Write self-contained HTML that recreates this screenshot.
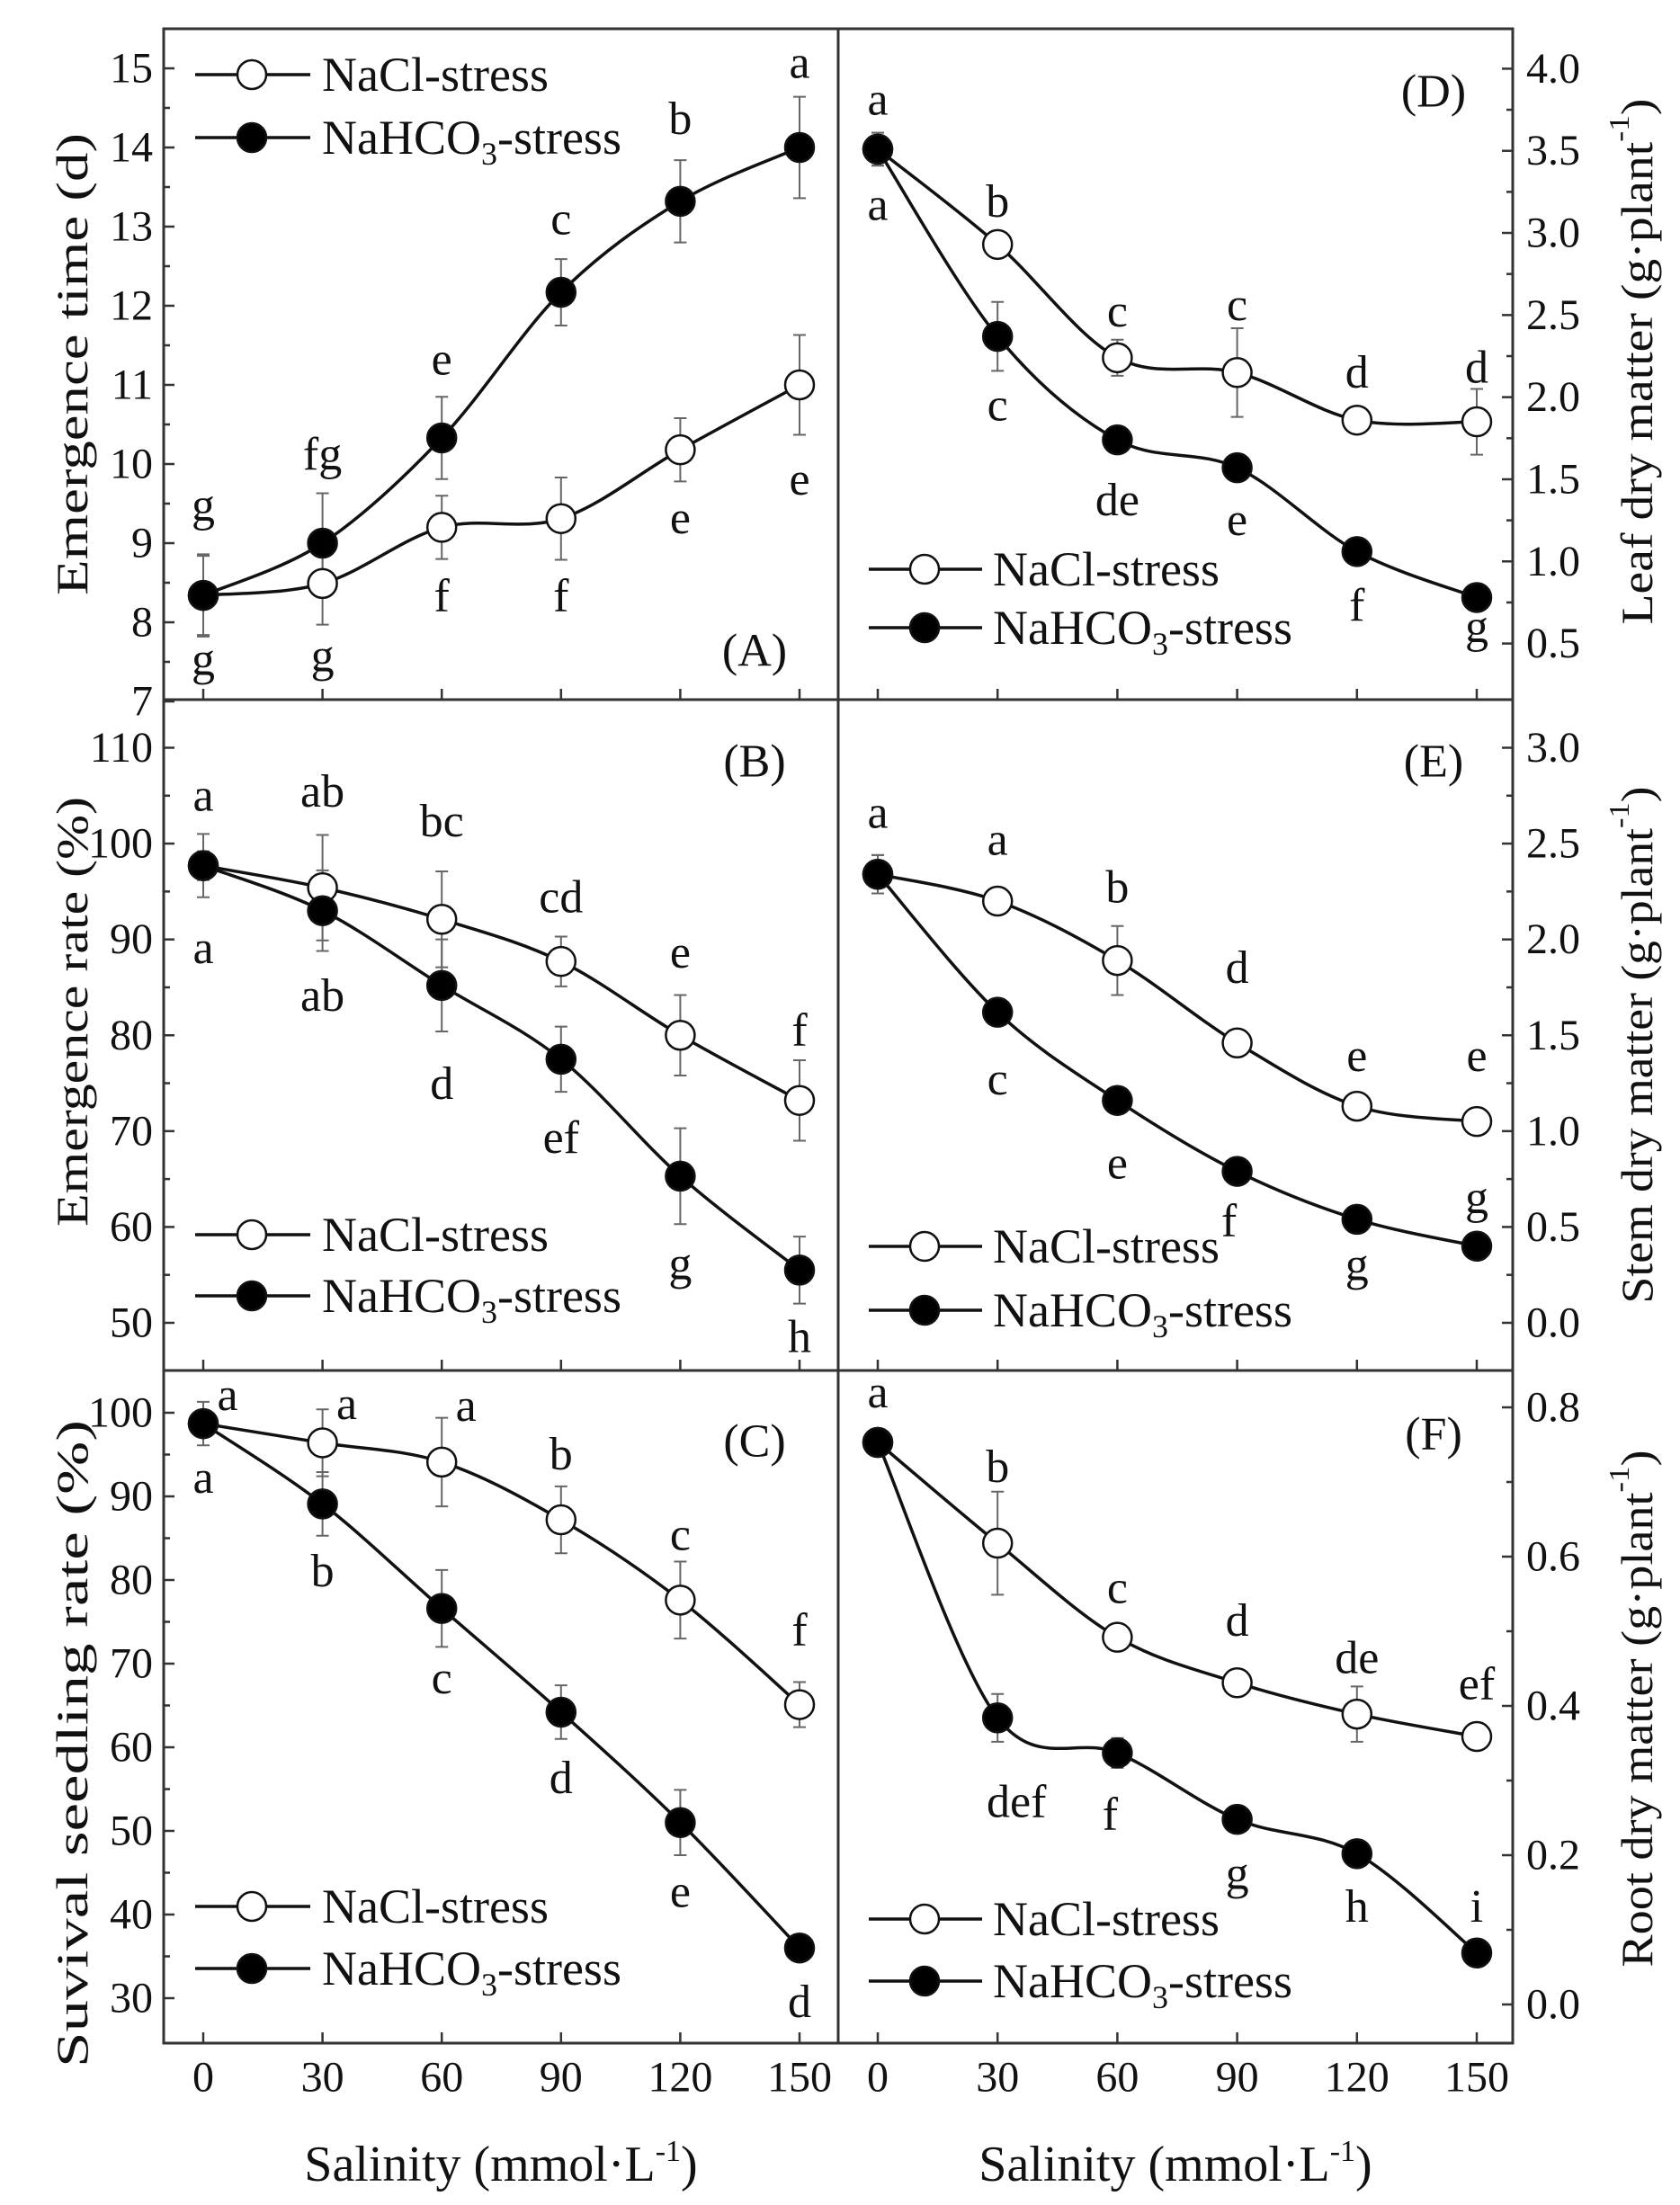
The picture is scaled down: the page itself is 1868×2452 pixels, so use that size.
<!DOCTYPE html>
<html>
<head>
<meta charset="utf-8">
<style>
  html,body{margin:0;padding:0;background:#fff;}
  svg{display:block;}
  text{font-family:"Liberation Serif","Times New Roman",serif;fill:#111;}
</style>
</head>
<body>
<svg id="chart" xmlns="http://www.w3.org/2000/svg" width="1868" height="2452" viewBox="0 0 1868 2452">
  <rect x="0" y="0" width="1868" height="2452" fill="#fff"/>
  <g id="marks"></g>
  <rect x="182" y="32" width="1500" height="2240" fill="none" stroke="#333" stroke-width="3"/>
  <line x1="932" y1="32" x2="932" y2="2272" stroke="#333" stroke-width="3"/>
  <line x1="182" y1="778" x2="1682" y2="778" stroke="#333" stroke-width="3"/>
  <line x1="182" y1="1524" x2="1682" y2="1524" stroke="#333" stroke-width="3"/>
  <text x="557" y="2425" font-size="56" text-anchor="middle">Salinity (mmol·L<tspan dy="-22" font-size="34">-1</tspan><tspan dy="22">)</tspan></text>
  <text x="1307" y="2425" font-size="56" text-anchor="middle">Salinity (mmol·L<tspan dy="-22" font-size="34">-1</tspan><tspan dy="22">)</tspan></text>
</svg>
<script>
// ---------- data ----------
const salinity = [0, 30, 60, 90, 120, 150];
const xTickLabels = ['0', '30', '60', '90', '120', '150'];

// (A) Emergence time (d)
const aNaCl = [8.34, 8.49, 9.2, 9.31, 10.18, 11.0];
const aNaClErr = [0.5, 0.52, 0.4, 0.52, 0.4, 0.63];
const aNaHCO3 = [8.34, 9.0, 10.33, 12.17, 13.32, 14.0];
const aNaHCO3Err = [0.52, 0.63, 0.52, 0.42, 0.52, 0.64];
const aTopLetters = ['g', 'fg', 'e', 'c', 'b', 'a'];
const aTopLetterY = [9.47, 10.12, 11.32, 13.09, 14.36, 15.07];
const aBotLetters = ['g', 'g', 'f', 'f', 'e', 'e'];
const aBotLetterY = [7.52, 7.57, 8.33, 8.33, 9.31, 9.8];
const aTicks = ['7', '8', '9', '10', '11', '12', '13', '14', '15'];

// (B) Emergence rate (%)
const bNaCl = [97.7, 95.4, 92.1, 87.7, 80.0, 73.2];
const bNaClErr = [3.3, 5.5, 5.0, 2.6, 4.2, 4.2];
const bNaHCO3 = [97.7, 93.0, 85.2, 77.5, 65.3, 55.5];
const bNaHCO3Err = [1.5, 4.2, 4.8, 3.4, 5.0, 3.5];
const bTopLetters = ['a', 'ab', 'bc', 'cd', 'e', 'f'];
const bTopLetterY = [105, 105.4, 102.3, 94.4, 88.6, 80.5];
const bBotLetters = ['a', 'ab', 'd', 'ef', 'g', 'h'];
const bBotLetterY = [89.1, 84.1, 74.9, 69.3, 56.1, 48.5];
const bTicks = ['50', '60', '70', '80', '90', '100', '110'];

// (C) Survival seedling rate (%)
const cNaCl = [98.7, 96.4, 94.1, 87.2, 77.6, 65.1];
const cNaClErr = [2.6, 4.0, 5.3, 4.0, 4.6, 2.7];
const cNaHCO3 = [98.7, 89.1, 76.6, 64.2, 51.0, 36.0];
const cNaHCO3Err = [1.5, 3.8, 4.6, 3.2, 3.9, 1.0];
const cTopLetters = ['a', 'a', 'a', 'b', 'c', 'f'];
const cTopLetterY = [102.1, 101.0, 100.8, 95.0, 85.4, 74.0];
const cTopLetterDx = [27, 27, 27, 0, 0, 0];
const cBotLetters = ['a', 'b', 'c', 'd', 'e', 'd'];
const cBotLetterY = [92.2, 81.0, 68.2, 56.3, 42.7, 29.5];
const cTicks = ['30', '40', '50', '60', '70', '80', '90', '100'];

// (D) Leaf dry matter
const dNaCl = [3.51, 2.93, 2.24, 2.15, 1.86, 1.85];
const dNaClErr = [0.1, 0.05, 0.11, 0.27, 0.03, 0.2];
const dNaHCO3 = [3.51, 2.37, 1.74, 1.57, 1.06, 0.78];
const dNaHCO3Err = [0.1, 0.21, 0.04, 0.04, 0.04, 0.04];
const dTopLetters = ['a', 'b', 'c', 'c', 'd', 'd'];
const dTopLetterY = [3.81, 3.19, 2.52, 2.56, 2.15, 2.18];
const dBotLetters = ['a', 'c', 'de', 'e', 'f', 'g'];
const dBotLetterY = [3.17, 1.95, 1.37, 1.25, 0.73, 0.6];
const dTicks = ['0.5', '1.0', '1.5', '2.0', '2.5', '3.0', '3.5', '4.0'];

// (E) Stem dry matter
const eNaCl = [2.34, 2.2, 1.89, 1.46, 1.13, 1.05];
const eNaClErr = [0.1, 0.03, 0.18, 0.04, 0.04, 0.02];
const eNaHCO3 = [2.34, 1.62, 1.16, 0.79, 0.54, 0.4];
const eNaHCO3Err = [0.1, 0.03, 0.03, 0.03, 0.03, 0.03];
const eTopLetters = ['a', 'a', 'b', 'd', 'e', 'e'];
const eTopLetterY = [2.66, 2.52, 2.27, 1.85, 1.39, 1.39];
const eBotLetters = ['c', 'e', 'f', 'g', 'g'];
const eBotLetterIdx = [1, 2, 3, 4, 5];
const eBotLetterY = [1.27, 0.83, 0.53, 0.3, 0.65];
const eTicks = ['0.0', '0.5', '1.0', '1.5', '2.0', '2.5', '3.0'];

// (F) Root dry matter
const fNaCl = [0.753, 0.618, 0.492, 0.431, 0.389, 0.359];
const fNaClErr = [0.01, 0.069, 0.01, 0.015, 0.037, 0.01];
const fNaHCO3 = [0.753, 0.384, 0.337, 0.248, 0.202, 0.069];
const fNaHCO3Err = [0.01, 0.032, 0.02, 0.01, 0.01, 0.01];
const fTopLetters = ['a', 'b', 'c', 'd', 'de', 'ef'];
const fTopLetterY = [0.82, 0.72, 0.558, 0.514, 0.464, 0.429];
const fBotLetters = ['def', 'f', 'g', 'h', 'i'];
const fBotLetterIdx = [1, 2, 3, 4, 5];
const fBotLetterY = [0.271, 0.254, 0.175, 0.131, 0.131];
const fBotLetterDx = [21, -8, 0, 0, 0];
const fTicks = ['0.0', '0.2', '0.4', '0.6', '0.8'];

// ---------- rendering ----------
const NS = 'http://www.w3.org/2000/svg';
const root = document.getElementById('marks');
function mk(tag, attrs, parent) {
  const el = document.createElementNS(NS, tag);
  for (const k in attrs) el.setAttribute(k, attrs[k]);
  (parent || root).appendChild(el);
  return el;
}
function linScale(v0, p0, v1, p1) { return v => p0 + (v - v0) * (p1 - p0) / (v1 - v0); }

function smoothPath(pts) {
  let d = 'M' + pts[0][0] + ',' + pts[0][1];
  for (let i = 0; i < pts.length - 1; i++) {
    const p0 = pts[i - 1] || pts[i], p1 = pts[i], p2 = pts[i + 1], p3 = pts[i + 2] || p2;
    const c1x = p1[0] + (p2[0] - p0[0]) / 6, c1y = p1[1] + (p2[1] - p0[1]) / 6;
    const c2x = p2[0] - (p3[0] - p1[0]) / 6, c2y = p2[1] - (p3[1] - p1[1]) / 6;
    d += ' C' + c1x + ',' + c1y + ' ' + c2x + ',' + c2y + ' ' + p2[0] + ',' + p2[1];
  }
  return d;
}

function drawPanel(P) {
  const g = mk('g', {});
  
  
  const x = linScale(0, P.x0, 150, P.x150);
  const y = linScale(P.v0, P.p0, P.v1, P.p1);

  const axisX = P.side === 'left' ? 182 : 1682;
  const dir = P.side === 'left' ? 1 : -1;
  P.ticks.forEach((t, i) => {
    const v = parseFloat(t);
    const ty = y(v);
    const tk = mk('line', { x1: axisX, y1: ty, x2: axisX + dir * 12, y2: ty, stroke: '#333', 'stroke-width': 2.5 }, g);
    
    
    const lb = mk('text', { x: P.side === 'left' ? 170 : 1697, y: ty, 'font-size': 48, 'text-anchor': P.side === 'left' ? 'end' : 'start', 'dominant-baseline': 'central' }, g);
    lb.textContent = t;
    
    
    if (i < P.ticks.length - 1) {
      const mv = (v + parseFloat(P.ticks[i + 1])) / 2;
      const mt = mk('line', { x1: axisX, y1: y(mv), x2: axisX + dir * 7, y2: y(mv), stroke: '#333', 'stroke-width': 2.5 }, g);
      
      
    }
  });
  salinity.forEach((s, i) => {
    const tx = x(s);
    const xt = mk('line', { x1: tx, y1: P.bottom, x2: tx, y2: P.bottom - 12, stroke: '#333', 'stroke-width': 2.5 }, g);
    
    
    if (P.bottom === 2272) {
      const xl = mk('text', { x: tx, y: 2310, 'font-size': 48, 'text-anchor': 'middle', 'dominant-baseline': 'central' }, g);
      xl.textContent = xTickLabels[i];
      
      
    }
  });

  const tt = mk('text', { x: 0, y: 0, 'font-size': 50, 'text-anchor': 'middle', 'dominant-baseline': 'central',
    transform: 'translate(' + P.titleX + ',' + P.titleY + ') rotate(-90)', textLength: P.titleLen, lengthAdjust: 'spacingAndGlyphs' }, g);
  
  
  tt.textContent = P.title;
  if (P.unit) {
    const ts1 = mk('tspan', {}, tt); ts1.textContent = ' (g·plant';
    const ts2 = mk('tspan', { dy: -20, 'font-size': 32 }, tt); ts2.textContent = '-1';
    const ts3 = mk('tspan', { dy: 20 }, tt); ts3.textContent = ')';
  }

  const pl = mk('text', { x: P.labelX, y: P.labelY, 'font-size': 52, 'text-anchor': 'middle', 'dominant-baseline': 'central' }, g);
  pl.textContent = '(' + P.id.toUpperCase() + ')';
  
  

  const series = [
    { name: 'nacl', vals: P.nacl, err: P.naclErr, fill: '#fff' },
    { name: 'nahco3', vals: P.nahco3, err: P.nahco3Err, fill: '#000' }
  ];
  series.forEach(s => {
    const pts = s.vals.map((v, i) => [x(salinity[i]), y(v)]);
    const ln = mk('path', { d: smoothPath(pts), fill: 'none', stroke: '#111', 'stroke-width': 3.5 }, g);
    
    
  });
  series.forEach(s => {
    s.vals.forEach((v, i) => {
      const cx = x(salinity[i]), hi = y(v + s.err[i]), lo = y(v - s.err[i]);
      const eb = mk('path', { d: 'M' + cx + ',' + hi + 'V' + lo + 'M' + (cx - 7) + ',' + hi + 'H' + (cx + 7) + 'M' + (cx - 7) + ',' + lo + 'H' + (cx + 7), stroke: '#666', 'stroke-width': 2, fill: 'none' }, g);
      
      
    });
  });
  series.forEach(s => {
    s.vals.forEach((v, i) => {
      const c = mk('circle', { cx: x(salinity[i]), cy: y(v), r: 16, fill: s.fill, stroke: '#111', 'stroke-width': 2.5 }, g);
      
      
    });
  });

  P.topLetters.forEach((t, i) => {
    const lt = mk('text', { x: x(salinity[i]) + (P.topDx ? P.topDx[i] : 0), y: y(P.topLetterY[i]), 'font-size': 52, 'text-anchor': 'middle', 'dominant-baseline': 'central' }, g);
    lt.textContent = t;
    
    
  });
  P.botLetters.forEach((t, k) => {
    const i = P.botIdx ? P.botIdx[k] : k;
    const lt = mk('text', { x: x(salinity[i]) + (P.botDx ? P.botDx[k] : 0), y: y(P.botLetterY[k]), 'font-size': 52, 'text-anchor': 'middle', 'dominant-baseline': 'central' }, g);
    lt.textContent = t;
    
    
  });

  const L = P.legend;
  [[L.y1, '#fff', 'NaCl-stress', false], [L.y2, '#000', 'NaHCO', true]].forEach((e, k) => {
    const lg = mk('g', {}, g);
    
    
    mk('line', { x1: L.x1, y1: e[0], x2: L.x2, y2: e[0], stroke: '#111', 'stroke-width': 3.5 }, lg);
    mk('circle', { cx: L.mx, cy: e[0], r: 16, fill: e[1], stroke: '#111', 'stroke-width': 2.5 }, lg);
    const tx = mk('text', { x: L.tx, y: e[0] + 18, 'font-size': 54 }, lg);
    tx.textContent = e[2];
    if (e[3]) {
      const s1 = mk('tspan', { dy: 12, 'font-size': 36 }, tx); s1.textContent = '3';
      const s2 = mk('tspan', { dy: -12 }, tx); s2.textContent = '-stress';
    }
  });
}

const legL = (y1, y2) => ({ x1: 217, x2: 345, mx: 280, tx: 358, y1: y1, y2: y2 });
const legR = (y1, y2) => ({ x1: 966, x2: 1092, mx: 1028, tx: 1104, y1: y1, y2: y2 });

const panels = [
  { id: 'a', side: 'left', x0: 226, x150: 889, v0: 15, p0: 76, v1: 8, p1: 692, bottom: 778, ticks: aTicks,
    nacl: aNaCl, naclErr: aNaClErr, nahco3: aNaHCO3, nahco3Err: aNaHCO3Err,
    topLetters: aTopLetters, topLetterY: aTopLetterY, botLetters: aBotLetters, botLetterY: aBotLetterY,
    title: 'Emergence time (d)', titleX: 80, titleY: 405, titleLen: 514, labelX: 839, labelY: 724, legend: legL(83, 153) },
  { id: 'b', side: 'left', x0: 226, x150: 889, v0: 110, p0: 831.5, v1: 50, p1: 1471, bottom: 1524, ticks: bTicks,
    nacl: bNaCl, naclErr: bNaClErr, nahco3: bNaHCO3, nahco3Err: bNaHCO3Err,
    topLetters: bTopLetters, topLetterY: bTopLetterY, botLetters: bBotLetters, botLetterY: bBotLetterY,
    title: 'Emergence rate (%)', titleX: 80, titleY: 1125, titleLen: 478, labelX: 839, labelY: 847, legend: legL(1373, 1441) },
  { id: 'c', side: 'left', x0: 226, x150: 889, v0: 100, p0: 1571, v1: 30, p1: 2222, bottom: 2272, ticks: cTicks,
    nacl: cNaCl, naclErr: cNaClErr, nahco3: cNaHCO3, nahco3Err: cNaHCO3Err,
    topLetters: cTopLetters, topLetterY: cTopLetterY, topDx: cTopLetterDx, botLetters: cBotLetters, botLetterY: cBotLetterY,
    title: 'Suvival seedling rate (%)', titleX: 80, titleY: 1939, titleLen: 720, labelX: 839, labelY: 1603, legend: legL(2120, 2189) },
  { id: 'd', side: 'right', x0: 976, x150: 1642, v0: 4.0, p0: 76.4, v1: 0.5, p1: 715.6, bottom: 778, ticks: dTicks,
    nacl: dNaCl, naclErr: dNaClErr, nahco3: dNaHCO3, nahco3Err: dNaHCO3Err,
    topLetters: dTopLetters, topLetterY: dTopLetterY, botLetters: dBotLetters, botLetterY: dBotLetterY,
    title: 'Leaf dry matter', unit: true, titleX: 1820, titleY: 402, titleLen: 585, labelX: 1594, labelY: 102, legend: legR(633, 698) },
  { id: 'e', side: 'right', x0: 976, x150: 1642, v0: 3.0, p0: 831.5, v1: 0, p1: 1471, bottom: 1524, ticks: eTicks,
    nacl: eNaCl, naclErr: eNaClErr, nahco3: eNaHCO3, nahco3Err: eNaHCO3Err,
    topLetters: eTopLetters, topLetterY: eTopLetterY, botLetters: eBotLetters, botIdx: eBotLetterIdx, botLetterY: eBotLetterY,
    botDx: [0, 0, -9, 0, 0],
    title: 'Stem dry matter', unit: true, titleX: 1820, titleY: 1162, titleLen: 575, labelX: 1594, labelY: 847, legend: legR(1386, 1457) },
  { id: 'f', side: 'right', x0: 976, x150: 1642, v0: 0.8, p0: 1565, v1: 0, p1: 2229, bottom: 2272, ticks: fTicks,
    nacl: fNaCl, naclErr: fNaClErr, nahco3: fNaHCO3, nahco3Err: fNaHCO3Err,
    topLetters: fTopLetters, topLetterY: fTopLetterY, botLetters: fBotLetters, botIdx: fBotLetterIdx, botLetterY: fBotLetterY,
    botDx: fBotLetterDx,
    title: 'Root dry matter', unit: true, titleX: 1820, titleY: 1900, titleLen: 575, labelX: 1594, labelY: 1595, legend: legR(2134, 2203) }
];
panels.forEach(drawPanel);
</script>
</body>
</html>
